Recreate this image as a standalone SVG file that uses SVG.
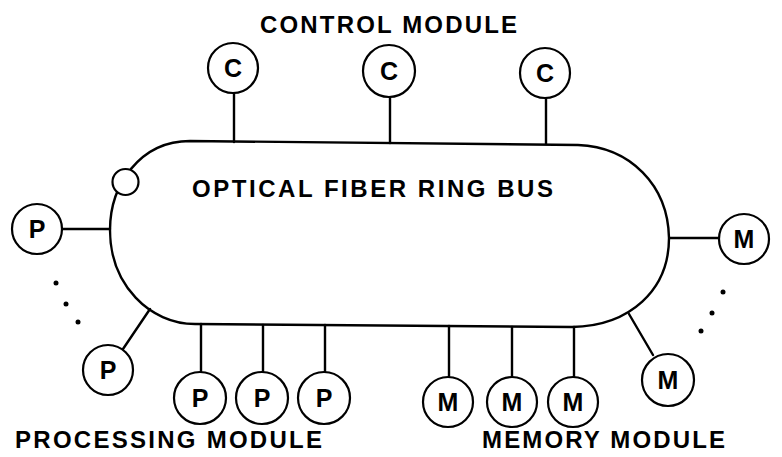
<svg xmlns="http://www.w3.org/2000/svg" width="782" height="457" viewBox="0 0 782 457">
<style>
.ln{fill:none;stroke:#000;stroke-width:2.4;stroke-linecap:round}
.nd{fill:#fff;stroke:#000;stroke-width:2.2}
.lb{font-family:"Liberation Sans",Arial,sans-serif;font-weight:bold;font-size:25px;text-anchor:middle;fill:#000}
.tt{font-family:"Liberation Sans",Arial,sans-serif;font-weight:bold;font-size:24px;fill:#000}
.dot{fill:#000}
</style>
<rect width="782" height="457" fill="#fff"/>
<g id="connectors">
<line class="ln" x1="234" y1="93" x2="234" y2="142"/>
<line class="ln" x1="390" y1="97" x2="390" y2="143"/>
<line class="ln" x1="546" y1="98" x2="546" y2="144"/>
<line class="ln" x1="62" y1="229" x2="110" y2="229"/>
<line class="ln" x1="123" y1="349" x2="150" y2="309"/>
<line class="ln" x1="201" y1="324" x2="201" y2="371"/>
<line class="ln" x1="263" y1="325" x2="263" y2="372"/>
<line class="ln" x1="325" y1="325" x2="325" y2="372"/>
<line class="ln" x1="449" y1="326" x2="449" y2="376"/>
<line class="ln" x1="512" y1="327" x2="512" y2="377"/>
<line class="ln" x1="574" y1="327" x2="574" y2="377"/>
<line class="ln" x1="629" y1="314" x2="653" y2="355"/>
<line class="ln" x1="670" y1="238" x2="719" y2="238"/>
</g>
<g id="bus">
<path class="ln" d="M190,141 L578,145 C630,147 668,185 669,238 C669,290 630,326 572,327 L195,324 C150,324 110,285 110,230 C110,185 140,141 190,141 Z"/>
<text class="tt" x="192" y="197" textLength="361" lengthAdjust="spacing">OPTICAL FIBER RING BUS</text>
</g>
<g id="terminator"><circle class="nd" cx="125.5" cy="182" r="13"/></g>
<g id="c1"><circle class="nd" cx="233" cy="68" r="25"/><text class="lb" x="233" y="77">C</text></g>
<g id="c2"><circle class="nd" cx="389" cy="71" r="26"/><text class="lb" x="389" y="80">C</text></g>
<g id="c3"><circle class="nd" cx="545" cy="73" r="25"/><text class="lb" x="545" y="82">C</text></g>
<g id="p1"><circle class="nd" cx="37" cy="229" r="25"/><text class="lb" x="37" y="238">P</text></g>
<g id="p2"><circle class="nd" cx="108" cy="370" r="25"/><text class="lb" x="108" y="379">P</text></g>
<g id="p3"><circle class="nd" cx="200" cy="398" r="26"/><text class="lb" x="200" y="407">P</text></g>
<g id="p4"><circle class="nd" cx="262" cy="398" r="26"/><text class="lb" x="262" y="407">P</text></g>
<g id="p5"><circle class="nd" cx="324" cy="398" r="26"/><text class="lb" x="324" y="407">P</text></g>
<g id="m1"><circle class="nd" cx="448" cy="402" r="25"/><text class="lb" x="448" y="411">M</text></g>
<g id="m2"><circle class="nd" cx="512" cy="402" r="25"/><text class="lb" x="512" y="411">M</text></g>
<g id="m3"><circle class="nd" cx="573" cy="402" r="25"/><text class="lb" x="573" y="411">M</text></g>
<g id="m4"><circle class="nd" cx="668" cy="380" r="26"/><text class="lb" x="668" y="389">M</text></g>
<g id="m5"><circle class="nd" cx="744" cy="239" r="25"/><text class="lb" x="744" y="248">M</text></g>
<g id="dots">
<circle class="dot" cx="56" cy="283" r="2.5"/>
<circle class="dot" cx="66" cy="304" r="2.5"/>
<circle class="dot" cx="78" cy="322" r="2.5"/>
<circle class="dot" cx="723" cy="292" r="2.5"/>
<circle class="dot" cx="712" cy="313" r="2.5"/>
<circle class="dot" cx="701" cy="331" r="2.5"/>
</g>
<g id="labels">
<text class="tt" x="260" y="33" textLength="257" lengthAdjust="spacing">CONTROL MODULE</text>
<text class="tt" x="15" y="448" textLength="307" lengthAdjust="spacing">PROCESSING MODULE</text>
<text class="tt" x="482" y="448" textLength="243" lengthAdjust="spacing">MEMORY MODULE</text>
</g>
</svg>
